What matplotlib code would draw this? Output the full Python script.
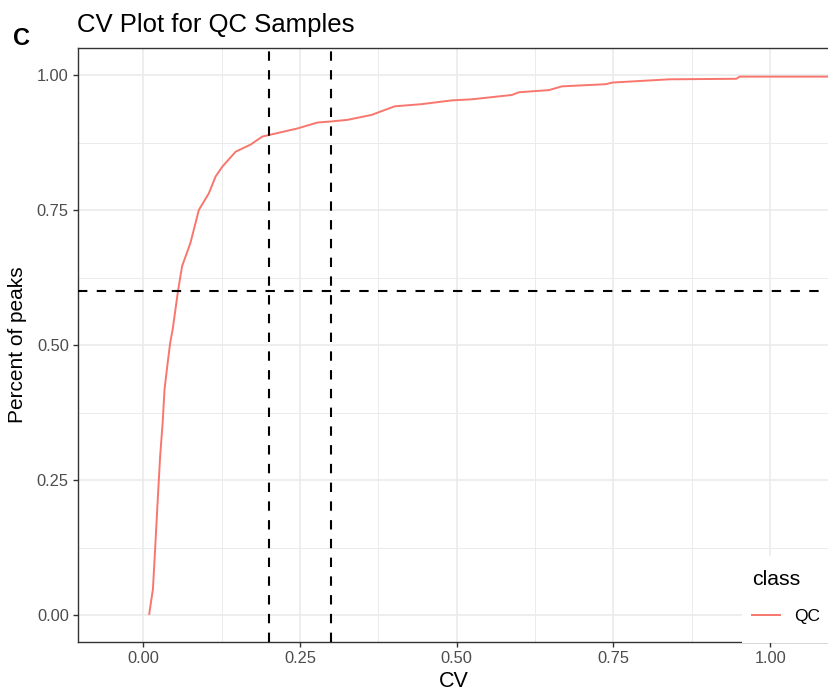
import matplotlib
matplotlib.use("Agg")
import matplotlib.pyplot as plt
from matplotlib.ticker import MultipleLocator
from matplotlib.patches import Rectangle

plt.rcParams['font.family'] = ['Liberation Sans', 'DejaVu Sans']

# Data (cumulative fraction of peaks vs CV)
cv = [0.0096, 0.0155, 0.019, 0.0235, 0.027, 0.031, 0.034, 0.039, 0.043, 0.047,
      0.0556, 0.062, 0.0753, 0.0887, 0.1047, 0.1154, 0.126, 0.1474, 0.171, 0.190,
      0.201, 0.246, 0.278, 0.30, 0.326, 0.364, 0.401, 0.444, 0.492, 0.524,
      0.588, 0.599, 0.647, 0.668, 0.738, 0.748, 0.839, 0.946, 0.951, 1.10]
pct = [0.002, 0.048, 0.122, 0.221, 0.294, 0.356, 0.418, 0.467, 0.504, 0.529,
       0.601, 0.646, 0.689, 0.750, 0.781, 0.812, 0.830, 0.858, 0.871, 0.886,
       0.889, 0.901, 0.912, 0.914, 0.917, 0.926, 0.942, 0.946, 0.953, 0.955,
       0.963, 0.968, 0.972, 0.979, 0.983, 0.986, 0.992, 0.993, 0.997, 0.997]
vlines_x = [0.2, 0.3]
hline_y = 0.6
x_ticks = [0.00, 0.25, 0.50, 0.75, 1.00]
y_ticks = [0.00, 0.25, 0.50, 0.75, 1.00]
series_name = "QC"

W, H = 829, 691
fig = plt.figure(figsize=(W / 100, H / 100), dpi=100)
ax_w = 1.004 - 78 / W
ax_h = (642 - 48) / H
ax = fig.add_axes([78 / W, (H - 642) / H, ax_w, ax_h])

ax.set_xlim(-0.104, 1.099)
ax.set_ylim(-0.05, 1.05)

grid_c = '#EBEBEB'
ax.set_xticks(x_ticks)
ax.set_yticks(y_ticks)
ax.set_xticklabels([f"{v:.2f}" for v in x_ticks])
ax.set_yticklabels([f"{v:.2f}" for v in y_ticks])
ax.xaxis.set_minor_locator(MultipleLocator(0.125))
ax.yaxis.set_minor_locator(MultipleLocator(0.125))
ax.grid(True, which='major', color=grid_c, linewidth=1.2, zorder=0)
ax.grid(True, which='minor', color=grid_c, linewidth=0.7, zorder=0)
ax.set_axisbelow(True)
ax.tick_params(which='minor', length=0)
ax.tick_params(which='major', length=3.6, width=1.0, color='#333333',
               labelcolor='#4D4D4D', labelsize=11.8, pad=3)

for s in ['left', 'bottom', 'top']:
    ax.spines[s].set_color('#333333')
    ax.spines[s].set_linewidth(1.0)
ax.spines['right'].set_visible(False)

ax.plot(cv, pct, color='#F8766D', linewidth=1.4, label=series_name, zorder=3)

for xv in vlines_x:
    ax.axvline(xv, color='black', linewidth=1.5, linestyle=(0, (4.5, 4.5)), zorder=4)
ax.axhline(hline_y, color='black', linewidth=1.5, linestyle=(0, (4.5, 4.5)), zorder=4)

ax.set_xlabel("CV", fontsize=15.5, color='black')
ax.set_ylabel("Percent of peaks", fontsize=15, color='black')
ax.xaxis.set_label_coords((454 - 78) / (ax_w * W), -(671 - 642) / (ax_h * H))
ax.yaxis.set_label_coords(-(78 - 27) / (ax_w * W), (642 - 344.5) / (642 - 48))

fig.text(77 / W, 1 - 32 / H, "CV Plot for QC Samples", fontsize=18.5,
         ha='left', va='baseline')
fig.text(13 / W, 1 - 45 / H, "C", fontsize=17, fontweight='bold',
         ha='left', va='baseline')

# white legend background overlapping the panel (as in the reference)
bg = Rectangle((742 / W, 1 - 643 / H), (845 - 742) / W, (643 - 556) / H,
               transform=fig.transFigure, facecolor='white', edgecolor='none',
               zorder=5)
fig.patches.append(bg)

handles, labels = ax.get_legend_handles_labels()
leg = fig.legend(handles, labels, loc='upper left',
                 bbox_to_anchor=(752 / W, 1 - 570 / H),
                 bbox_transform=fig.transFigure, frameon=False,
                 title='class', title_fontsize=15.3, fontsize=12.5,
                 handlelength=1.6, handletextpad=0.8, borderpad=0,
                 borderaxespad=0, labelspacing=1.12, alignment='left')
leg.set_zorder(6)

fig.savefig("out.png", dpi=100)
